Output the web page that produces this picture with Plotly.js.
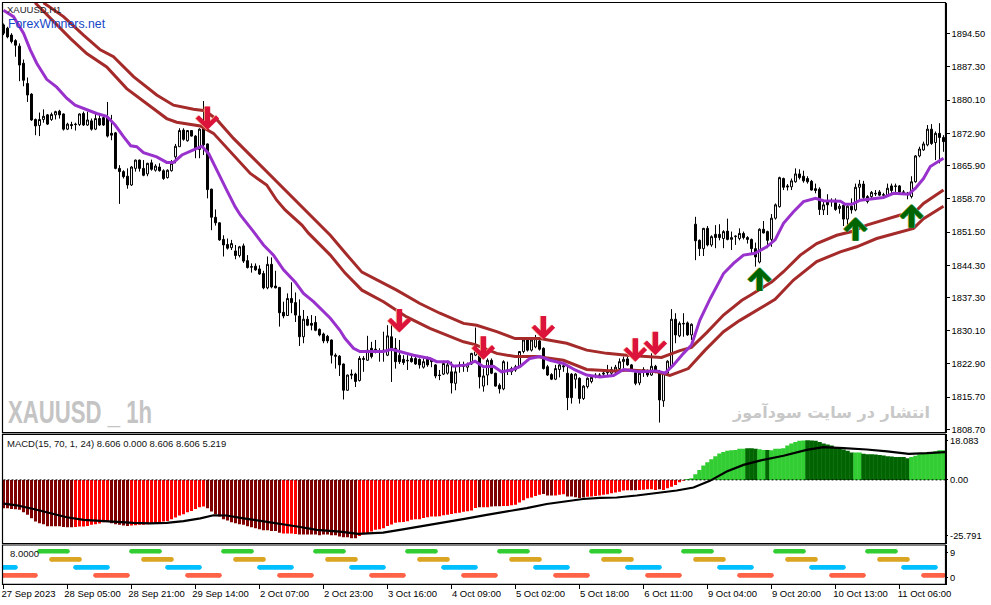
<!DOCTYPE html>
<html><head><meta charset="utf-8">
<script src="https://cdn.plot.ly/plotly-3.0.1.min.js"></script>
<style>html,body{margin:0;padding:0;background:#fff}#c{width:991px;height:605px}</style>
</head><body><div id="c"></div>
<script>
const opens=[1896.4,1895.7,1894.2,1893.0,1891.8,1888.1,1883.7,1881.4,1875.9,1874.6,
1875.9,1876.9,1875.9,1876.9,1877.7,1877.1,1873.8,1874.8,1874.9,1874.8,
1877.2,1874.7,1875.6,1873.8,1876.1,1876.3,1876.4,1872.9,1873.0,1865.3,
1864.6,1863.6,1861.7,1865.3,1867.1,1865.3,1864.1,1866.5,1864.9,1865.6,
1864.8,1863.3,1864.8,1867.8,1870.0,1873.6,1871.3,1873.5,1872.3,1869.4,
1874.0,1870.6,1860.8,1854.7,1853.5,1849.9,1848.8,1848.1,1847.4,1846.4,
1848.5,1845.3,1844.0,1844.1,1843.5,1842.5,1839.4,1844.5,1839.8,1839.5,
1834.1,1833.4,1837.1,1836.2,1833.3,1828.8,1832.6,1831.7,1831.9,1830.4,
1829.4,1828.9,1828.1,1824.8,1824.6,1822.9,1817.2,1820.7,1820.7,1819.3,
1824.1,1823.7,1826.3,1826.1,1825.6,1825.9,1824.8,1828.8,1826.3,1824.8,
1823.9,1823.7,1824.1,1824.1,1823.9,1822.2,1824.1,1823.9,1822.7,1820.5,
1820.7,1820.9,1821.2,1818.7,1822.7,1822.6,1822.2,1822.9,1824.8,1825.0,
1818.1,1820.5,1823.7,1820.9,1818.3,1817.5,1821.6,1821.2,1821.6,1822.3,
1825.6,1828.1,1825.9,1826.6,1827.9,1826.3,1822.3,1820.6,1819.6,1821.7,
1822.5,1820.9,1820.7,1819.6,1819.8,1815.4,1818.0,1819.1,1820.5,1820.4,
1820.7,1821.0,1820.9,1821.2,1821.9,1823.4,1824.0,1822.7,1821.0,1818.8,
1821.7,1821.2,1820.5,1822.4,1821.2,1814.9,1820.9,1822.3,1832.6,1829.0,
1831.7,1831.8,1829.2,1853.2,1849.7,1847.9,1852.3,1848.7,1851.0,1851.0,
1850.1,1851.7,1849.9,1850.5,1850.1,1851.2,1850.3,1849.9,1847.9,1845.0,
1852.1,1851.6,1849.9,1854.5,1857.0,1863.1,1861.5,1861.3,1862.4,1864.1,
1863.6,1863.1,1862.5,1860.9,1860.8,1856.3,1858.1,1858.2,1857.9,1856.6,
1857.3,1854.3,1857.1,1856.3,1861.2,1861.9,1858.1,1859.2,1859.9,1860.2,
1859.6,1859.5,1861.5,1861.5,1861.5,1860.2,1859.9,1859.2,1862.4,1868.0,
1869.3,1870.4,1873.8,1870.9,1872.9,1872.0];
const highs=[1896.7,1896.0,1894.6,1893.3,1892.4,1888.9,1885.0,1881.6,1876.1,1877.4,
1878.1,1877.1,1877.4,1877.8,1878.0,1877.2,1875.2,1875.4,1875.2,1877.2,
1877.6,1877.6,1876.1,1877.2,1876.9,1876.9,1879.7,1876.9,1873.2,1866.0,
1864.9,1865.3,1865.8,1867.2,1867.2,1867.1,1866.5,1867.2,1866.2,1866.4,
1865.1,1865.1,1867.1,1870.6,1874.0,1874.0,1873.6,1873.6,1872.5,1874.0,
1879.9,1870.7,1860.9,1856.4,1853.6,1850.8,1850.1,1849.8,1848.7,1848.5,
1849.0,1846.5,1844.7,1844.7,1844.3,1843.1,1846.2,1846.0,1843.1,1839.6,
1836.4,1838.2,1840.6,1838.4,1836.9,1834.6,1833.3,1833.5,1833.3,1830.6,
1829.7,1829.2,1828.2,1825.2,1824.8,1823.0,1820.6,1821.7,1821.0,1824.6,
1824.6,1829.0,1827.7,1828.1,1826.3,1829.9,1831.3,1832.1,1828.5,1828.1,
1824.8,1824.8,1824.8,1824.5,1824.1,1824.1,1824.5,1824.1,1822.9,1821.6,
1823.6,1823.6,1823.4,1822.7,1823.4,1823.4,1823.2,1825.3,1830.8,1825.2,
1821.9,1824.1,1824.1,1821.0,1818.7,1823.7,1823.4,1822.3,1822.7,1825.7,
1828.2,1828.4,1828.4,1829.2,1828.2,1826.5,1822.7,1820.9,1822.7,1822.9,
1822.9,1822.7,1820.9,1820.9,1820.0,1818.3,1820.0,1820.5,1820.9,1820.9,
1821.6,1822.7,1822.3,1822.7,1824.1,1824.5,1824.5,1822.9,1821.2,1821.2,
1822.2,1821.7,1825.2,1822.7,1821.6,1821.2,1823.7,1834.8,1833.9,1832.1,
1833.9,1832.1,1831.7,1854.8,1849.9,1852.4,1852.8,1850.8,1853.0,1853.2,
1851.9,1854.4,1851.6,1850.8,1852.3,1851.6,1850.6,1850.1,1849.2,1852.3,
1853.9,1851.8,1855.4,1857.7,1863.5,1863.3,1861.9,1863.1,1865.3,1865.1,
1864.8,1863.6,1862.8,1862.0,1861.2,1858.4,1859.7,1858.8,1858.8,1857.6,
1857.6,1857.6,1858.8,1862.0,1862.8,1862.6,1859.5,1860.4,1860.6,1860.6,
1860.0,1862.0,1862.0,1862.0,1861.7,1860.6,1860.2,1863.6,1868.2,1870.0,
1871.1,1874.7,1874.9,1873.3,1875.1,1872.5];
const lows=[1894.2,1893.5,1892.4,1889.5,1884.2,1883.1,1879.7,1875.6,1872.5,1872.3,
1875.2,1874.7,1875.6,1875.9,1876.1,1873.5,1873.6,1873.8,1873.5,1874.5,
1874.5,1874.5,1873.5,1873.6,1874.5,1874.5,1872.0,1871.4,1865.1,1857.6,
1863.1,1860.9,1861.5,1864.6,1864.6,1863.6,1863.6,1864.8,1864.6,1864.6,
1862.8,1863.1,1864.6,1866.4,1870.0,1871.3,1871.1,1872.2,1867.5,1867.5,
1868.2,1858.8,1851.9,1852.9,1849.6,1846.2,1847.7,1847.6,1845.6,1846.0,
1844.8,1843.6,1842.7,1843.1,1842.2,1839.1,1839.1,1839.3,1839.3,1831.0,
1832.8,1833.3,1833.9,1832.0,1826.8,1827.4,1831.1,1830.2,1830.0,1828.9,
1827.4,1827.4,1823.0,1821.9,1820.3,1815.2,1817.1,1819.6,1817.9,1819.1,
1821.2,1823.6,1824.1,1825.2,1823.4,1823.4,1824.6,1819.0,1821.9,1822.9,
1822.7,1821.6,1823.2,1822.7,1821.9,1821.9,1822.3,1822.2,1819.8,1819.4,
1820.5,1820.6,1816.5,1817.2,1821.0,1821.2,1821.2,1822.7,1824.6,1817.6,
1816.9,1818.3,1820.7,1818.0,1816.5,1817.2,1820.5,1820.5,1821.2,1822.2,
1825.2,1825.6,1825.6,1826.3,1825.8,1821.7,1820.3,1819.4,1819.4,1820.0,
1821.2,1812.9,1814.3,1817.6,1814.3,1815.1,1817.6,1818.7,1819.8,1820.0,
1820.0,1820.3,1820.5,1820.9,1821.6,1821.9,1822.5,1821.2,1818.3,1818.3,
1820.1,1820.1,1820.3,1820.9,1810.2,1813.6,1820.5,1822.2,1827.4,1828.7,
1828.8,1829.0,1828.1,1845.4,1846.3,1846.3,1848.4,1848.3,1848.0,1849.7,
1848.0,1849.7,1847.6,1848.7,1849.7,1849.9,1849.0,1846.9,1844.0,1844.7,
1851.2,1848.0,1848.3,1854.2,1856.8,1860.6,1860.5,1860.6,1862.2,1862.9,
1862.2,1862.0,1860.5,1859.9,1855.2,1855.2,1855.2,1857.0,1856.1,1855.5,
1852.8,1852.3,1855.5,1856.0,1858.4,1858.6,1857.7,1858.8,1859.3,1859.3,
1859.0,1859.2,1859.5,1860.2,1859.9,1859.7,1858.6,1858.8,1862.2,1867.7,
1869.1,1870.1,1870.4,1867.1,1866.4,1868.9];
const closes=[1894.6,1893.8,1892.8,1892.0,1887.7,1884.4,1881.2,1875.8,1874.5,1875.9,
1876.6,1874.9,1877.0,1877.6,1876.9,1873.8,1874.9,1874.6,1874.8,1877.1,
1874.7,1875.8,1873.8,1876.1,1874.7,1874.7,1872.3,1872.5,1865.3,1864.6,
1863.5,1861.7,1865.6,1867.1,1865.3,1863.8,1866.4,1865.1,1865.8,1864.8,
1863.1,1864.9,1866.4,1870.1,1873.5,1871.6,1873.5,1872.3,1869.4,1873.8,
1870.4,1860.7,1854.7,1853.5,1849.8,1848.7,1848.0,1849.0,1846.4,1848.3,
1845.2,1843.8,1843.9,1843.3,1842.4,1839.4,1844.5,1839.6,1839.4,1834.0,
1833.3,1837.1,1836.2,1833.5,1828.8,1832.6,1831.3,1831.3,1830.2,1829.2,
1827.9,1827.9,1824.8,1824.6,1822.7,1817.2,1820.5,1820.5,1819.1,1824.1,
1823.9,1825.9,1824.5,1825.6,1825.4,1825.6,1829.0,1826.3,1823.4,1823.4,
1823.2,1823.6,1823.4,1822.9,1822.7,1823.4,1822.7,1823.4,1820.3,1820.4,
1823.0,1822.7,1818.8,1821.2,1822.5,1822.4,1822.9,1825.2,1827.0,1820.1,
1820.3,1823.7,1820.9,1818.1,1817.5,1823.4,1821.5,1821.9,1822.3,1825.6,
1828.1,1825.9,1828.1,1828.4,1826.1,1821.9,1820.5,1819.6,1821.9,1822.7,
1822.3,1815.6,1815.6,1820.7,1815.4,1818.1,1819.8,1820.0,1820.4,1820.5,
1820.9,1821.2,1821.7,1822.2,1823.4,1823.9,1822.7,1821.6,1818.7,1820.9,
1821.6,1820.5,1822.4,1821.2,1815.1,1820.9,1823.5,1832.6,1829.2,1831.7,
1831.6,1829.2,1831.5,1849.6,1847.9,1852.3,1848.7,1850.5,1850.3,1850.3,
1851.6,1849.9,1850.3,1850.6,1851.2,1850.3,1849.9,1847.9,1846.1,1852.1,
1851.3,1849.7,1854.5,1857.4,1863.3,1861.2,1861.3,1862.6,1864.1,1863.3,
1862.6,1862.4,1860.6,1860.5,1856.4,1857.4,1857.4,1858.1,1856.4,1857.1,
1854.3,1857.1,1856.3,1861.2,1861.9,1859.0,1859.2,1860.1,1859.8,1859.5,
1859.5,1861.0,1860.5,1861.4,1860.2,1860.1,1859.8,1862.4,1868.0,1869.5,
1870.6,1873.8,1870.7,1872.9,1872.0,1871.1];
const purpleBars=[0,2.5,5,6.7,8.3,10.8,13.3,15.8,17.9,20.8,23.3,25.8,27.9,30,31.8,33.3,35,38.3,40.8,42.5,44.6,47.5,49.6,51.3,53.3,55.8,57.9,59.2,62.5,65,67.5,70,72.9,75,77.5,81.7,84.1,85.4,87.5,89.1,92.5,95,97,99.1,102.5,106.6,108.3,111.2,112.5,115.8,117.9,120,122.5,124.5,127,129.1,131.6,134.1,136.6,140,142.9,145.8,149.1,152.5,155,159.1,163.3,165.4,167.5,170,172,174.1,176.7,180,182.5,185,187.9,190.8,192.9,195,197.5,200,203,205,209.2,210.4,212.1,214.2,217.5,220,222.5,226.3,228,230,231.7,235];
const purpleVals=[1899.6,1898.2,1894.6,1891.0,1888.1,1884.6,1882.9,1880.5,1879.0,1878.1,1877.2,1876.6,1874.7,1872.2,1870.2,1870.0,1868.7,1867.8,1866.6,1866.6,1868.2,1869.3,1870.1,1868.5,1864.9,1860.6,1857,1855.2,1851.6,1848.7,1846.5,1843.3,1840.7,1838.2,1836.4,1832.8,1830.2,1828.4,1826.3,1825.6,1825.6,1825.6,1826.1,1825.6,1824.8,1824.1,1823.4,1823.4,1822.4,1822.7,1823.5,1822.3,1822.4,1821.2,1821.6,1822.3,1824.1,1824.5,1823.7,1823,1821.6,1820.5,1820.1,1820.4,1821.7,1821.2,1821.4,1820.9,1822.7,1825.2,1827,1832.4,1837.1,1842.5,1844.7,1846.5,1846.9,1848.3,1849.8,1853.4,1855.9,1858.1,1858.8,1858.3,1858.2,1857.5,1857.5,1858.4,1858.8,1859,1859.9,1859.7,1861,1863.1,1865.7,1867.5];
const upperBars=[10,15,20,24.2,27.5,32.5,38.3,42.5,47.5,50.4,53.3,57.5,61.3,65.8,70.4,76.3,81.7,85.4,89.6,98.3,104.1,109.1,115,118.3,123.3,127.9,134.1,140.8,145.8,150.8,155.8,164.5,169.1,172,175.8,180,184.6,186.7,192.1,195,199.2,203.3,208.3,212.1,215.8,224.2,227.5,230,235];
const upperVals=[1901.2,1898.2,1894.2,1891,1889.5,1885.2,1881.2,1879,1878.1,1877.8,1875.9,1871.8,1868.5,1864.6,1860.6,1855.5,1850.8,1847,1842.8,1838.9,1836,1833.9,1831.7,1831.3,1829.9,1828.4,1828.4,1827.4,1825.9,1825.2,1824.8,1824.3,1825.8,1826.5,1829.7,1833.5,1836.7,1837.8,1840.7,1842.9,1846.5,1849,1850.8,1851.6,1853,1855.2,1855.5,1857.7,1860.6];
const lowerBars=[7.9,12.5,16.7,20.8,25.8,30.8,36.7,40.8,43.3,49.2,52.5,57.5,61.7,65.8,68.3,70.4,74.6,76.3,80,81.7,85.4,89.6,95,100.8,106.6,115,117.9,123.3,127.9,133.3,140,145.8,152.5,156.6,163.3,166.6,171.2,175.4,180,184,192.9,197.5,203.3,209.2,213.3,218.3,227.5,230,235];
const lowerVals=[1901.2,1897.1,1893.5,1890.2,1887.3,1882.6,1878.7,1876.1,1875.3,1874.5,1872.9,1868.2,1864.2,1861.7,1858.4,1856.3,1853,1851.2,1848,1846.5,1842.6,1838.9,1836.4,1833.1,1830.6,1827.7,1827.1,1825.2,1824.5,1824.5,1823.7,1821.7,1821.4,1821.6,1821.2,1820.4,1821.9,1825.9,1829.9,1832.3,1836.9,1841.1,1845.1,1847.2,1848.3,1850.1,1852.3,1854.4,1857.1];
const downArrowBars=[51,99,120,135,158,163];
const downArrowPrices=[1873.6,1829.7,1823.8,1828.2,1823.4,1824.8];
const upArrowBars=[189,213,227];
const upArrowPrices=[1843.8,1854.7,1857.5];
const histValues=[-13.05,-13.05,-13.4,-13.5,-13.8,-14.9,-16.1,-17.7,-19.2,-20,
-20.4,-21.35,-21.35,-21.35,-21.35,-21.65,-21.8,-21.8,-21.65,-21.5,
-21.5,-21.2,-20.7,-20.4,-20.1,-19.5,-19,-20,-20.4,-20.7,
-21,-21.2,-21,-20.9,-20.7,-20.7,-20.4,-20.1,-19.8,-19.35,
-19.2,-18.9,-18.1,-17.35,-16.4,-15.8,-14.9,-14.3,-13.4,-12.6,
-12.3,-13.05,-14.6,-15.8,-16.9,-18.1,-18.7,-19.5,-20,-20.4,
-20.7,-21.35,-21.8,-22.3,-22.7,-23.2,-23.2,-23.5,-23.5,-24.4,
-24.7,-24.7,-24.7,-24.9,-25.2,-25.2,-25.2,-25.2,-25.2,-25.5,
-25.2,-25.2,-25.5,-25.5,-26.1,-26.4,-26.4,-26.9,-26.9,-25.8,
-25.0,-24.6,-23.8,-23,-22.7,-22.3,-21.2,-20.6,-19.7,-19.5,
-19.4,-19,-18.4,-18.1,-18.1,-17.5,-17.2,-16.9,-16.9,-16.7,
-16.3,-16,-15.7,-15.4,-15.1,-14.7,-14.4,-14.1,-12.9,-12.6,
-12.6,-12.6,-12.3,-12.1,-12.1,-12,-12,-11.7,-11.5,-10.4,
-9.4,-8.4,-8.1,-7.4,-6.8,-6.5,-7.2,-7.2,-7.2,-6.9,
-6.6,-7.7,-7.7,-8,-8.3,-8.1,-7.8,-7.7,-7.4,-7.2,
-6.9,-6.6,-6.1,-5.8,-5.5,-4.9,-4.8,-4.8,-4.8,-4.6,
-4.5,-4.3,-4.3,-4.6,-4.3,-4.6,-3.8,-3.2,-2.3,-1.1,
-0.45,0.45,0.8,2.6,4.6,6.6,8.1,9.5,10.9,12.1,
12.8,13.4,13.7,13.8,14.3,14.4,14.6,14.6,14.4,14.1,
13.8,13.8,13.7,14.3,14.3,14.6,15.8,16.75,17.4,18,
18.1,18.3,18.1,18,17.4,16.75,16.3,15.8,15.2,14.6,
14,13.4,12.6,12.6,12.6,12,11.8,11.8,11.7,11.5,
11.2,10.9,10.8,10.6,10.6,10.5,10,10.5,11.1,11.8,
12.1,12.45,12.6,13.2,13.7,13.7];
const darkBarRuns=[[0,17],[27,31],[51,69],[74,88],[119,119],[122,124],[135,137],[141,145],[157,158],[164,164],[186,188],[191,191],[201,212],[215,226]];
const signalBars=[0,3.3,7.5,11.7,15.8,20,24.2,28.3,32.5,36.7,40.8,45,49.2,52.5,55.8,60,65.8,70,74.2,78.3,81.6,84.1,88.7,91.6,94.9,99.1,104.1,109.1,114.9,120.8,125.8,130.8,135.8,139.9,144.9,149.1,153.3,158.3,163.3,166.6,168.3,172.5,175,176.6,180.8,185,189.1,195,200.8,205,210,215.8,220.9,226.3,230.8,235.4];
const signalVals=[-10.9,-11.7,-13.4,-15.2,-17.2,-18.4,-18.9,-19.2,-19.8,-20,-19.8,-19,-17.7,-16.3,-16.4,-17.7,-19.2,-20.4,-21.7,-23,-23.3,-23.8,-24.9,-24.6,-24.3,-23,-21.5,-20,-18.1,-16.1,-14.7,-13,-11.1,-10,-8.8,-8.3,-8.1,-7.2,-6.1,-5.4,-4.9,-3.5,-1.5,-0.45,3.85,6.9,8.9,11.1,13.8,15.1,14.6,14,13.1,12,12.3,12.8];
const greenRuns=[[9,16],[32,39],[55,62],[78,85],[101,108],[124,131],[147,154],[170,177],[193,200],[216,223]];
const goldRuns=[[12,19],[35,42],[58,65],[81,88],[104,111],[127,134],[150,157],[173,180],[196,203],[219,226]];
const blueRuns=[[0,3],[18,26],[41,49],[64,72],[87,95],[110,118],[133,141],[156,164],[179,187],[202,210],[225,233]];
const salmonRuns=[[0,8],[23,31],[46,54],[69,77],[92,100],[115,123],[138,146],[161,169],[184,192],[207,215],[230,235]];
const runLevels=[9.36,6.5,3.67,0.83];
const runColors=['#32CD32','#DAA520','#00BFFF','#FF6347'];
const priceTicks=[1894.5,1887.3,1880.1,1872.9,1865.9,1858.7,1851.5,1844.3,1837.3,1830.1,1822.9,1815.7,1808.7];
const priceLabels=['1894.50','1887.30','1880.10','1872.90','1865.90','1858.70','1851.50','1844.30','1837.30','1830.10','1822.90','1815.70','1808.70'];
const timeTicks=[0,16,32,48,64,80,96,112,128,144,160,176,192,208,224];
const timeLabels=['27 Sep 2023','28 Sep 05:00','28 Sep 21:00','29 Sep 14:00','2 Oct 07:00','2 Oct 23:00','3 Oct 16:00','4 Oct 09:00','5 Oct 02:00','5 Oct 18:00','6 Oct 11:00','9 Oct 04:00','9 Oct 20:00','10 Oct 13:00','11 Oct 06:00'];

const W=991,H=605, FONT='"Liberation Sans",Arial,sans-serif';
const px=v=>v/W, py=v=>1-v/H;
const panes=[[2.5,432.7],[434.3,543.5],[545,584.3]], L=2.5, R=945.5;
const bars=opens.map((_,i)=>i);
const isDark=i=>darkBarRuns.some(r=>i>=r[0]&&i<=r[1]);
const histColors=histValues.map((v,i)=>v<0?(isDark(i)?'#800000':'#FF0000'):(isDark(i)?'#006400':'#32CD32'));
const histWidths=histValues.map(v=>v<0?0.75:1.12);
const ln=(x,y,color,width,ya,dash)=>({type:'scatter',mode:'lines',x,y,yaxis:ya,hoverinfo:'skip',
  line:{color,width,dash:dash||'solid',shape:'linear'}});
const runTrace=(runs,level,color)=>{const x=[],y=[];runs.forEach(r=>{x.push(r[0],r[1],null);y.push(level,level,null)});
  const t=ln(x,y,color,4.6,'y3');t.mode='lines+markers';t.marker={size:4.6,color,line:{width:0}};return t;};
const data=[
 {type:'candlestick',x:bars,open:opens,high:highs,low:lows,close:closes,yaxis:'y',hoverinfo:'skip',whiskerwidth:0,
  increasing:{line:{color:'#000',width:1},fillcolor:'#fff'},decreasing:{line:{color:'#000',width:1},fillcolor:'#000'}},
 ln(upperBars,upperVals,'#A52A2A',3,'y'),
 ln(lowerBars,lowerVals,'#A52A2A',3,'y'),
 ln(purpleBars,purpleVals,'#9932CC',3,'y'),
 {type:'bar',x:bars,y:histValues,yaxis:'y2',width:histWidths,marker:{color:histColors,line:{width:0}},hoverinfo:'skip'},
 ln([bars[0],bars[bars.length-1]+1],[0,0],'#000',1,'y2','2px,2px'),
 ln(signalBars,signalVals,'#000',2.2,'y2'),
 runTrace(greenRuns,runLevels[0],runColors[0]),
 runTrace(goldRuns,runLevels[1],runColors[1]),
 runTrace(blueRuns,runLevels[2],runColors[2]),
 runTrace(salmonRuns,runLevels[3],runColors[3])
];
const yBase=(pane,range,vals,text,len)=>({domain:[py(pane[1]),py(pane[0])],range,anchor:'x',side:'right',tickmode:'array',tickvals:vals,ticktext:text,
  showgrid:false,zeroline:false,showline:true,linecolor:'#000',linewidth:1.2,ticks:'outside',ticklen:len,tickwidth:1,tickcolor:'#000',
  tickfont:{family:FONT,size:9.3,color:'#000'},fixedrange:true});
const txt=(x,y,text,size,color,family,bold,extra)=>Object.assign({xref:'paper',yref:'paper',x:px(x),y:py(y),xanchor:'left',yanchor:'middle',showarrow:false,
  text:bold?'<b>'+text+'</b>':text,font:{family:family||FONT,size,color},borderpad:0,borderwidth:0},extra||{});
const arrow=(x,y,color,ay,xshift)=>({xref:'x',yref:'y',x,y,text:'',showarrow:true,arrowhead:4,arrowsize:0.72,arrowwidth:5.4,arrowcolor:color,ax:0,ay,standoff:0,xshift:xshift||0});
const annotations=[
 txt(7,10,'XAUUSD,H1',9.5,'#222'),
 txt(8,24,'ForexWinners.net',12.3,'#1548c8'),
 txt(7,412,'XAUUSD _ 1h',32,'#c4c4c4',FONT,true),
 txt(930,412,'انتشار در سایت سودآموز',16,'#c8c8c8','"DejaVu Sans"',true,{xanchor:'right'}),
 txt(7,443,'MACD(15, 70, 1, 24) 8.606 0.000 8.606 8.606 5.219',9.5,'#111'),
 txt(10,553,'8.0000',9.5,'#111'),
 ...downArrowBars.map((b,i)=>arrow(b,downArrowPrices[i],'#F4B183',-25,-1)),
 ...downArrowBars.map((b,i)=>arrow(b,downArrowPrices[i],'#DC143C',-25)),
 ...upArrowBars.map((b,i)=>arrow(b,upArrowPrices[i],'#DAA520',25,-1)),
 ...upArrowBars.map((b,i)=>arrow(b,upArrowPrices[i],'#20B2AA',25,1)),
 ...upArrowBars.map((b,i)=>arrow(b,upArrowPrices[i],'#006400',25))
];
const shapes=panes.map(p=>({type:'rect',xref:'paper',yref:'paper',x0:px(L),x1:px(R),y0:py(p[1]),y1:py(p[0]),line:{color:'#000',width:1.2},layer:'above'}));
const layout={width:W,height:H,margin:{l:0,r:0,t:0,b:0,pad:0},paper_bgcolor:'#fff',plot_bgcolor:'#fff',showlegend:false,barmode:'overlay',
 xaxis:{domain:[px(L),px(R)],range:[(L-3.5)/4,(R-3.5)/4],anchor:'y3',tickmode:'array',tickvals:timeTicks,ticktext:timeLabels,ticks:'outside',ticklen:4,tickwidth:1,tickcolor:'#000',
   showgrid:false,zeroline:false,showline:true,linecolor:'#000',tickangle:0,ticklabelshift:25,ticklabeloverflow:'allow',ticklabelstandoff:-4,tickfont:{family:FONT,size:9.5,color:'#000'},rangeslider:{visible:false},fixedrange:true},
 yaxis:yBase(panes[0],[1808.0,1901.26],priceTicks,priceLabels,3),
 yaxis2:yBase(panes[1],[-29.3,21],[18.083,0,-25.791],['18.083','0.00','-25.791'],1.5),
 yaxis3:yBase(panes[2],[-2.34,11.6],[9,0],['9','0'],1.5),
 annotations,shapes};
Plotly.newPlot('c',data,layout,{staticPlot:true,displayModeBar:false}).then(()=>{
  document.querySelectorAll('.annotation-text').forEach(t=>{
    if(t.textContent.indexOf('XAUUSD _')===0){
      t.setAttribute('textLength','144');t.setAttribute('lengthAdjust','spacingAndGlyphs');
      t.querySelectorAll('tspan').forEach(s=>{s.setAttribute('textLength','144');s.setAttribute('lengthAdjust','spacingAndGlyphs');});
      const dx=8-t.getBoundingClientRect().left;
      t.setAttribute('transform','translate('+dx+',0)');
    }
  });
});
</script></body></html>
